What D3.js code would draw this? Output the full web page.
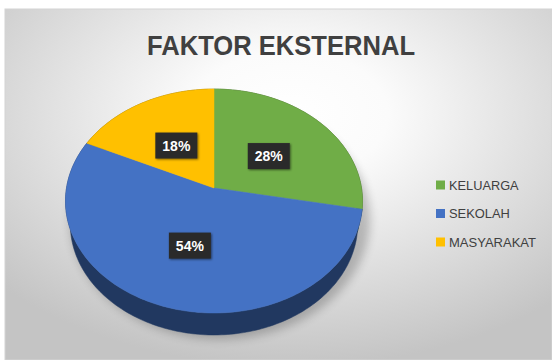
<!DOCTYPE html>
<html>
<head>
<meta charset="UTF-8">
<script src="https://cdn.jsdelivr.net/npm/d3@7"></script>
<style>
    body { margin: 0; background: white; }
    svg { display: block; }
    text { font-family: "Liberation Sans", "DejaVu Sans", sans-serif; }
</style>
</head>
<body>
<div id="chart"></div>
<script>
    const categories = ['KELUARGA', 'SEKOLAH', 'MASYARAKAT'];
    const values = [28, 54, 18];
    const labels = ['28%', '54%', '18%'];
    const colors = ['#70ad47', '#4472c4', '#ffc000'];

    const w = 552, h = 360;

    const svg = d3.select('#chart').append('svg')
        .attr('width', w)
        .attr('height', h);

    const defs = svg.append('defs');
    const bg = defs.append('radialGradient')
        .attr('id', 'bg')
        .attr('cx', '52%').attr('cy', '30%').attr('r', '72%');
    bg.append('stop').attr('offset', '0%').attr('stop-color', '#ffffff');
    bg.append('stop').attr('offset', '25%').attr('stop-color', '#fbfbfb');
    bg.append('stop').attr('offset', '100%').attr('stop-color', '#c4c4c4');

    const blur = defs.append('filter').attr('id', 'blur')
        .attr('x', '-20%').attr('y', '-20%').attr('width', '140%').attr('height', '140%');
    blur.append('feGaussianBlur').attr('stdDeviation', 5);

    const boxShadow = defs.append('filter').attr('id', 'boxshadow')
        .attr('x', '-30%').attr('y', '-30%').attr('width', '160%').attr('height', '160%');
    boxShadow.append('feDropShadow')
        .attr('dx', 1).attr('dy', 1).attr('stdDeviation', 1.2)
        .attr('flood-color', '#000').attr('flood-opacity', 0.5);

    // chart area
    svg.append('rect')
        .attr('x', 5).attr('y', 9)
        .attr('width', w - 5).attr('height', h - 9)
        .attr('fill', 'url(#bg)')
        .attr('stroke', '#d4d4d4')
        .attr('stroke-width', 1);

    // title
    svg.append('text')
        .attr('x', 281).attr('y', 55)
        .attr('text-anchor', 'middle')
        .attr('font-size', 28)
        .attr('font-weight', 'bold')
        .attr('fill', '#404040')
        .attr('textLength', 268)
        .attr('lengthAdjust', 'spacingAndGlyphs')
        .text('FAKTOR EKSTERNAL');

    // 3d projection of the pie disk
    const cx = 214, cy = 188;
    const f = 839.2, D = 5.69;
    const sn = 0.749, cs = 0.662;
    const depth = 0.248;

    function proj(a, r, hh) {
        const u = r * Math.sin(a), v = r * Math.cos(a);
        const Y = v * sn - hh * cs;
        const Z = D + v * cs + hh * sn;
        return [cx + f * u / Z, cy - f * Y / Z];
    }

    const pie = d3.pie().sort(null).value(d => d);
    const arcs = pie(values);

    // shadow under pie
    const sc = proj(0, 0, depth);
    svg.append('ellipse')
        .attr('cx', sc[0] + 6).attr('cy', sc[1] + 8)
        .attr('rx', 150).attr('ry', 120)
        .attr('fill', '#000')
        .attr('opacity', 0.22)
        .attr('filter', 'url(#blur)');

    function arcPoints(a0, a1, r, hh) {
        const n = Math.max(2, Math.ceil((a1 - a0) / 0.02));
        const pts = [];
        for (let i = 0; i <= n; i++) {
            pts.push(proj(a0 + (a1 - a0) * i / n, r, hh));
        }
        return pts;
    }

    const line = d3.line();

    // side walls (only the front part shows, the top covers the rest)
    svg.append('g').selectAll('path')
        .data(arcs)
        .join('path')
        .attr('d', d => line(arcPoints(d.startAngle, d.endAngle, 1, 0)
            .concat(arcPoints(d.startAngle, d.endAngle, 1, depth).reverse())) + 'Z')
        .attr('fill', (d, i) => d3.color(colors[i]).darker(2))
        .attr('stroke', (d, i) => d3.color(colors[i]).darker(2))
        .attr('stroke-width', 0.5);

    // top faces
    svg.append('g').selectAll('path')
        .data(arcs)
        .join('path')
        .attr('d', d => line([proj(0, 0, 0)].concat(arcPoints(d.startAngle, d.endAngle, 1, 0))) + 'Z')
        .attr('fill', (d, i) => colors[i])
        .attr('stroke', (d, i) => colors[i])
        .attr('stroke-width', 0.5);

    // data labels
    const lab = svg.append('g').selectAll('g')
        .data(arcs)
        .join('g')
        .attr('transform', d => {
            const p = proj((d.startAngle + d.endAngle) / 2, 0.5, 0);
            return `translate(${p[0]}, ${p[1] + 2})`;
        });
    lab.append('rect')
        .attr('x', -21).attr('y', -13)
        .attr('width', 42).attr('height', 26)
        .attr('fill', '#2a2a2a')
        .attr('filter', 'url(#boxshadow)');
    lab.append('text')
        .attr('text-anchor', 'middle')
        .attr('dy', '0.36em')
        .attr('font-size', 14)
        .attr('font-weight', 'bold')
        .attr('fill', '#ffffff')
        .text((d, i) => labels[i]);

    // legend
    const ly = d3.scalePoint().domain(categories).range([185, 242]);
    const legend = svg.append('g').selectAll('g')
        .data(categories)
        .join('g')
        .attr('transform', d => `translate(436, ${ly(d)})`);
    legend.append('rect')
        .attr('x', 0).attr('y', -4.5)
        .attr('width', 9).attr('height', 9)
        .attr('fill', (d, i) => colors[i]);
    legend.append('text')
        .attr('x', 13)
        .attr('dy', '0.36em')
        .attr('font-size', 13)
        .attr('fill', '#404040')
        .attr('textLength', d => d.length * 8.7)
        .attr('lengthAdjust', 'spacingAndGlyphs')
        .text(d => d);
</script>
</body>
</html>
